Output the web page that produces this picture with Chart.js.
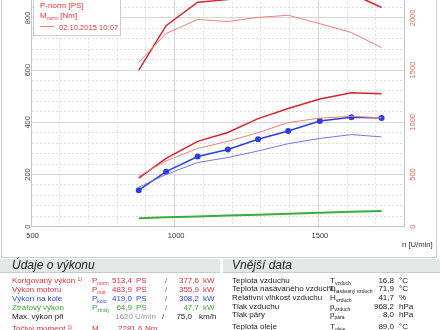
<!DOCTYPE html>
<html>
<head>
<meta charset="utf-8">
<script src="https://cdn.jsdelivr.net/npm/chart.js@4.4.1/dist/chart.umd.min.js"></script>
<style>
  body { margin: 0; width: 440px; height: 330px; overflow: hidden; background: #fff; position: relative;
         font-family: "Liberation Sans", Arial, sans-serif; color: #222; }
  #chart { position: absolute; left: 0; top: -45px; }
  #frame { position: absolute; left: 1px; top: -2px; width: 436px; height: 260px; border: 1px solid #c9d0cd; box-sizing: border-box; pointer-events: none; }
  #legend { position: absolute; left: 33px; top: -22px; width: 88px; box-sizing: border-box; background: #fff; white-space: nowrap;
            border: 1px solid #c9cccb; padding: 2px 0 2px 6px; font-size: 8px; line-height: 10px; color: #e8333c; }
  #legend .sw { display: inline-block; width: 14px; height: 0; border-top: 1px solid #ee8078; vertical-align: 3px; margin-right: 5px; }
  #legend .date { font-size: 7.6px; }
  #xtitle { position: absolute; left: 402px; top: 240px; font-size: 7.7px; color: #333; }
  .band { position: absolute; top: 259px; height: 13px; background: #e3e7e5; border-bottom: 1px solid #c3ccc8; }
  .band span { position: absolute; top: -1px; font-size: 12px; font-style: italic; line-height: 15px; }
  .t { position: absolute; font-size: 8px; line-height: 9px; white-space: nowrap; }
  sub, sup { font-size: 5px; line-height: 0; }
  sub { vertical-align: -1.5px; }
  sup { vertical-align: 2px; }
  .red { color: #e0303a; }
  .blue { color: #3545d8; }
  .green { color: #3aa83a; }
  .grey { color: #999; }
</style>
</head>
<body>
<canvas id="chart" width="440" height="305"></canvas>
<div id="frame"></div>
<div id="legend">
  <div style="color:#3545d8">P-kolo [PS]</div>
  <div style="color:#3aa83a">P-ztrát [PS]</div>
  <div>P-norm [PS]</div>
  <div>M<sub>norm</sub> [Nm]</div>
  <div style="margin-top:2px"><span class="sw"></span><span class="date">02.10.2015 10:07</span></div>
</div>
<div id="xtitle">n [U/min]</div>

<div class="band" style="left:0; width:220px;"><span style="left:12px">Údaje o výkonu</span></div>
<div class="band" style="left:223px; width:217px;"><span style="left:9px">Vnější data</span></div>

<!-- Údaje o výkonu -->
<div class="t red" style="left:12px; top:275.5px">Korigovaný výkon <sup>1)</sup></div>
<div class="t red" style="left:92px; top:275.5px">P<sub>norm</sub></div>
<div class="t red" style="right:308px; top:275.5px">513,4</div>
<div class="t red" style="left:136px; top:275.5px">PS</div>
<div class="t red" style="left:165px; top:275.5px">/</div>
<div class="t red" style="right:241px; top:275.5px">377,6</div>
<div class="t red" style="left:203px; top:275.5px">kW</div>

<div class="t red" style="left:12px; top:284.5px">Výkon motoru</div>
<div class="t red" style="left:92px; top:284.5px">P<sub>mot</sub></div>
<div class="t red" style="right:308px; top:284.5px">483,9</div>
<div class="t red" style="left:136px; top:284.5px">PS</div>
<div class="t red" style="left:165px; top:284.5px">/</div>
<div class="t red" style="right:241px; top:284.5px">355,9</div>
<div class="t red" style="left:203px; top:284.5px">kW</div>

<div class="t blue" style="left:12px; top:293.5px">Výkon na kole</div>
<div class="t blue" style="left:92px; top:293.5px">P<sub>kolo</sub></div>
<div class="t blue" style="right:308px; top:293.5px">419,0</div>
<div class="t blue" style="left:136px; top:293.5px">PS</div>
<div class="t blue" style="left:165px; top:293.5px">/</div>
<div class="t blue" style="right:241px; top:293.5px">308,2</div>
<div class="t blue" style="left:203px; top:293.5px">kW</div>

<div class="t green" style="left:12px; top:302.5px">Ztrátový výkon</div>
<div class="t green" style="left:92px; top:302.5px">P<sub>ztráty</sub></div>
<div class="t green" style="right:308px; top:302.5px">64,9</div>
<div class="t green" style="left:136px; top:302.5px">PS</div>
<div class="t green" style="left:165px; top:302.5px">/</div>
<div class="t green" style="right:241px; top:302.5px">47,7</div>
<div class="t green" style="left:203px; top:302.5px">kW</div>

<div class="t" style="left:12px; top:311.5px">Max. výkon při</div>
<div class="t grey" style="right:307px; top:311.5px">1620</div>
<div class="t grey" style="left:135px; top:311.5px">U/min</div>
<div class="t" style="left:162px; top:311.5px">/</div>
<div class="t" style="right:248px; top:311.5px">75,0</div>
<div class="t" style="left:199px; top:311.5px">km/h</div>

<div class="t red" style="left:12px; top:323.5px">Točivý moment <sup>1)</sup></div>
<div class="t red" style="left:92px; top:323.5px">M<sub>norm</sub></div>
<div class="t red" style="left:118px; top:323.5px">2281,6</div>
<div class="t red" style="left:145px; top:323.5px">Nm</div>

<!-- Vnější data -->
<div class="t" style="left:232px; top:275.5px">Teplota vzduchu</div>
<div class="t" style="left:330px; top:275.5px">T<sub>vzduch</sub></div>
<div class="t" style="right:46px; top:275.5px">16,8</div>
<div class="t" style="left:399px; top:275.5px">°C</div>

<div class="t" style="left:232px; top:283.5px">Teplota nasávaného vzduchu</div>
<div class="t" style="left:329px; top:283.5px">T<sub>nasávaný vzduch</sub></div>
<div class="t" style="right:46px; top:283.5px">71,9</div>
<div class="t" style="left:399px; top:283.5px">°C</div>

<div class="t" style="left:232px; top:292.5px">Relativní vlhkost vzduchu</div>
<div class="t" style="left:330px; top:292.5px">H<sub>vzduch</sub></div>
<div class="t" style="right:46px; top:292.5px">41,7</div>
<div class="t" style="left:399px; top:292.5px">%</div>

<div class="t" style="left:232px; top:301.5px">Tlak vzduchu</div>
<div class="t" style="left:330px; top:301.5px">p<sub>vzduch</sub></div>
<div class="t" style="right:46px; top:301.5px">968,2</div>
<div class="t" style="left:399px; top:301.5px">hPa</div>

<div class="t" style="left:232px; top:309.5px">Tlak páry</div>
<div class="t" style="left:330px; top:309.5px">p<sub>pára</sub></div>
<div class="t" style="right:46px; top:309.5px">8,0</div>
<div class="t" style="left:399px; top:309.5px">hPa</div>

<div class="t" style="left:232px; top:321.5px">Teplota oleje</div>
<div class="t" style="left:330px; top:321.5px">T<sub>oleje</sub></div>
<div class="t" style="right:46px; top:321.5px">89,0</div>
<div class="t" style="left:399px; top:321.5px">°C</div>

<script>
    // Otáčky (U/min) měřených bodů
    const rpm = [875, 970, 1080, 1185, 1290, 1395, 1505, 1615, 1720];

    // Aktuální měření
    const pNorm = [186, 262, 327, 361, 414, 453, 489, 513, 509];
    const pKolo = [140, 211, 269, 296, 335, 367, 405, 419, 416];
    const pZtrat = [32, 36, 39, 43, 46, 50, 53, 57, 60];
    const mNorm = [1500, 1925, 2150, 2175, 2255, 2281, 2275, 2233, 2100];

    // Srovnávací měření 02.10.2015 10:07
    const pNormOld = [193, 252, 300, 327, 360, 399, 416, 423, 417];
    const pKoloOld = [151, 200, 246, 265, 290, 318, 338, 353, 344];
    const mNormOld = [1575, 1850, 1985, 1965, 2005, 2025, 1945, 1860, 1715];

    const xy = (vals) => vals.map((v, i) => ({ x: rpm[i], y: v }));

    // plné čáry na "kulatých" hodnotách, jinak čárkovaně
    const gridDash = (step) => (c) => (c.tick && c.tick.value % step !== 0) ? [2, 2] : [];
    const gridColor = (step) => (c) => (c.tick && c.tick.value % step !== 0) ? "#dedede" : "#d6d6d6";

    const ctx = document.getElementById("chart").getContext("2d");
    const chart = new Chart(ctx, {
      type: "line",
      data: {
        datasets: [
          { data: xy(mNormOld), yAxisID: "yR", borderColor: "#ee8078", borderWidth: 1, pointRadius: 0 },
          { data: xy(mNorm), yAxisID: "yR", borderColor: "#d8232e", borderWidth: 1.5, pointRadius: 0 },
          { data: xy(pZtrat), yAxisID: "y", borderColor: "#3aad3a", borderWidth: 2, pointRadius: 0 },
          { data: xy(pKoloOld), yAxisID: "y", borderColor: "#7078e8", borderWidth: 1, pointRadius: 0 },
          { data: xy(pNormOld), yAxisID: "y", borderColor: "#ee8078", borderWidth: 1, pointRadius: 0 },
          { data: xy(pNorm), yAxisID: "y", borderColor: "#d8232e", borderWidth: 1.5, pointRadius: 0 },
          { data: xy(pKolo), yAxisID: "y", borderColor: "#2b3fe0", borderWidth: 1.5,
            pointRadius: 3, pointBackgroundColor: "#2b3fe0", pointBorderWidth: 0 }
        ]
      },
      options: {
        responsive: false,
        animation: false,
        devicePixelRatio: 1,
        layout: { padding: { top: 10.7, left: 0, right: 0, bottom: 0 } },
        plugins: { legend: { display: false }, tooltip: { enabled: false } },
        scales: {
          x: {
            type: "linear", min: 500, max: 1800,
            afterFit: (s) => { s.height = 33.3; },
            ticks: {
              stepSize: 100, autoSkip: false, maxRotation: 0, padding: 5, labelOffset: 1.5,
              color: "#333", font: { family: "Liberation Sans", size: 7.5 },
              callback: (v) => v % 500 === 0 ? v : ""
            },
            grid: { drawTicks: false, color: gridColor(500) },
            border: { color: "#c4c4c4", dash: gridDash(500) }
          },
          y: {
            position: "left", min: 0, max: 1000,
            afterFit: (s) => { s.width = 31; },
            ticks: {
              stepSize: 40, autoSkip: false, minRotation: 90, maxRotation: 90,
              crossAlign: "center", padding: -3,
              color: "#444", font: { family: "Liberation Sans", size: 7.5 },
              callback: (v) => (v % 200 === 0 && v < 1000) ? v : ""
            },
            grid: { drawTicks: false, color: gridColor(200) },
            border: { color: "#c4c4c4", dash: gridDash(200) }
          },
          yR: {
            position: "right", min: 0, max: 2500,
            afterFit: (s) => { s.width = 35.4; },
            ticks: {
              stepSize: 100, autoSkip: false, minRotation: 90, maxRotation: 90,
              crossAlign: "center", padding: 0,
              color: "#e8604c", font: { family: "Liberation Sans", size: 7.5 },
              callback: (v) => (v % 500 === 0 && v < 2500) ? v : ""
            },
            grid: { drawOnChartArea: false, drawTicks: false },
            border: { color: "#c4c4c4" }
          }
        }
      }
    });
</script>
</body>
</html>
